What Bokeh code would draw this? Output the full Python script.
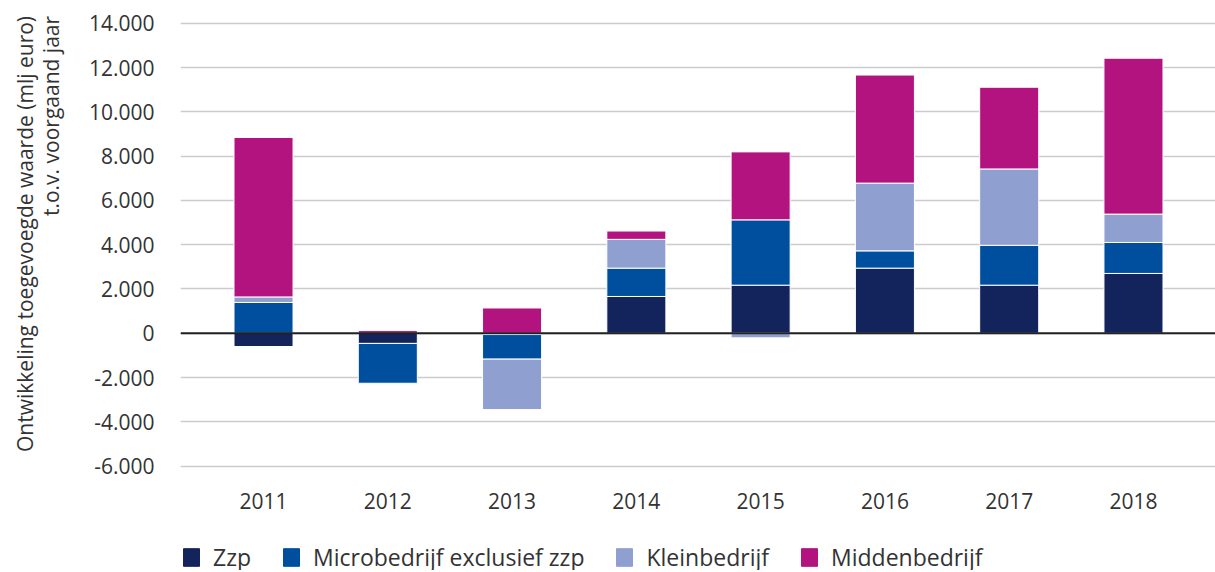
from bokeh.plotting import figure
from bokeh.layouts import column, row
from bokeh.models import (ColumnDataSource, FixedTicker, CustomJSTickFormatter, Span,
                          Legend, LegendItem, Label)
from bokeh.embed import file_html
from bokeh.resources import INLINE
import math

years = [2011, 2012, 2013, 2014, 2015, 2016, 2017, 2018]
series_names = ["Zzp", "Microbedrijf exclusief zzp", "Kleinbedrijf", "Middenbedrijf"]
zzp = [-600, -460, -60, 1660, 2170, 2940, 2170, 2700]
micro = [1390, -1800, -1110, 1280, 2950, 780, 1800, 1400]
klein = [250, 0, -2280, 1300, -210, 3060, 3450, 1280]
midden = [7200, 120, 1140, 375, 3070, 4880, 3690, 7040]
colors = ["#13235b", "#004f9f", "#8f9fd0", "#b3137f"]
y_ticks = [-6000, -4000, -2000, 0, 2000, 4000, 6000, 8000, 10000, 12000, 14000]
y_title_1 = "Ontwikkeling toegevoegde waarde (mlj euro)"
y_title_2 = "t.o.v. voorgaand jaar"

FONT = "Open Sans"
TXT = "#333333"
Y_RANGE = (-6200, 14350)

fig = figure(frame_width=1035, frame_height=455, output_backend="svg", toolbar_location=None,
             x_range=(2010.332, 2018.66), y_range=Y_RANGE,
             min_border_left=105, min_border_right=0, min_border_top=15, min_border_bottom=58,
             outline_line_color=None)

# stacked bars, positives up and negatives down
pos = [0.0] * len(years)
neg = [0.0] * len(years)
stack = []
for name, vals, col in zip(series_names, [zzp, micro, klein, midden], colors):
    bottoms, tops = [], []
    for i, v in enumerate(vals):
        if v >= 0:
            bottoms.append(pos[i]); tops.append(pos[i] + v); pos[i] += v
        else:
            bottoms.append(neg[i]); tops.append(neg[i] + v); neg[i] += v
    src = ColumnDataSource(dict(x=years, bottom=bottoms, top=tops))
    fig.vbar(x="x", bottom="bottom", top="top", width=0.475, source=src,
             fill_color=col, line_color="white", line_width=1)
    stack.append(src)

fig.add_layout(Span(location=0, dimension="width", line_color="#222222", line_width=2))

# axes
fig.yaxis.ticker = FixedTicker(ticks=y_ticks)
fig.yaxis.formatter = CustomJSTickFormatter(code="""
var s = Math.abs(tick).toFixed(0).replace(/\\B(?=(\\d{3})+(?!\\d))/g, '.');
return (tick < 0 ? '-' : '') + s;
""")
fig.xaxis.ticker = FixedTicker(ticks=years)
for ax in (fig.xaxis, fig.yaxis):
    ax.axis_line_color = None
    ax.major_tick_line_color = None
    ax.minor_tick_line_color = None
    ax.major_label_text_font = FONT
    ax.major_label_text_font_size = "21px"
    ax.major_label_text_color = TXT
fig.yaxis.major_label_standoff = 20
fig.xaxis.major_label_standoff = 16

fig.xgrid.grid_line_color = None
fig.ygrid.grid_line_color = "#cccccc"
fig.ygrid.grid_line_width = 1.5

# y-axis title in its own narrow strip on the left (two lines, aligned at the top)
ttl = figure(frame_width=75, frame_height=455, output_backend="svg", toolbar_location=None,
             x_range=(0, 75), y_range=Y_RANGE, min_border_left=0, min_border_right=0,
             min_border_top=15, min_border_bottom=58, outline_line_color=None)
ttl.axis.visible = False
ttl.grid.grid_line_color = None
for txt, xx in ((y_title_1, 24), (y_title_2, 50)):
    ttl.add_layout(Label(x=xx, y=14330, text=txt, angle=math.pi / 2,
                         text_align="right", text_baseline="middle",
                         text_font=FONT, text_font_size="21px", text_color=TXT))

# legend in its own strip below the chart (series drawn outside its visible range)
leg = figure(frame_width=1035, height=42, output_backend="svg", toolbar_location=None,
             x_range=(0, 1), y_range=(0, 1), min_border=0, outline_line_color=None)
leg.axis.visible = False
leg.grid.grid_line_color = None
items = []
for name, col, src in zip(series_names, colors, stack):
    r = leg.vbar(x="x", bottom="bottom", top="top", width=0.5, source=src,
                 fill_color=col, line_color=col)
    items.append(LegendItem(label=name, renderers=[r]))
legend = Legend(items=items, orientation="horizontal", location=(106, -3),
                label_text_font=FONT, label_text_font_size="23px", label_text_color=TXT,
                glyph_width=20, glyph_height=22, label_standoff=12, spacing=30,
                padding=0, margin=0, border_line_color=None, background_fill_alpha=0)
leg.add_layout(legend, "center")

p = row(ttl, column(fig, leg, spacing=0), spacing=0)

open("out.html", "w").write(file_html(p, INLINE))
